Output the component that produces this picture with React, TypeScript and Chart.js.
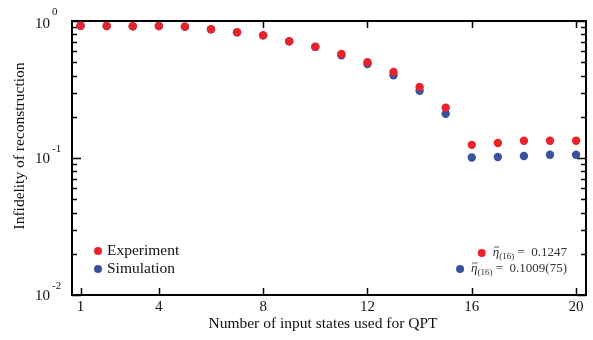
import React, { useEffect, useRef } from "react";
import { Chart, registerables } from "chart.js";

Chart.register(...registerables);

const inputStates = [1, 2, 3, 4, 5, 6, 7, 8, 9, 10, 11, 12, 13, 14, 15, 16, 17, 18, 19, 20];
const experiment = [0.924, 0.92, 0.915, 0.92, 0.91, 0.87, 0.827, 0.786, 0.711, 0.649, 0.574, 0.4995, 0.4243, 0.33, 0.233, 0.1247, 0.1287, 0.1337, 0.1337, 0.1337];
const simulation = [0.923, 0.919, 0.914, 0.919, 0.909, 0.869, 0.826, 0.785, 0.71, 0.647, 0.562, 0.485, 0.4015, 0.31, 0.2106, 0.1009, 0.1017, 0.1034, 0.1057, 0.1057];
const xTickValues = [1, 4, 8, 12, 16, 20];
const yTickExponents = [0, -1, -2];
const seriesLabels = ["Experiment", "Simulation"];
const annotationValues = ["0.1247", "0.1009(75)"];
const xTitle = "Number of input states used for QPT";
const yTitle = "Infidelity of reconstruction";

const RED = "#e8232b";
const BLUE = "#3a51a0";
const SERIF = "'Liberation Serif', 'Times New Roman', serif";

const framePlugin = {
  id: "framePlugin",
  beforeDatasetsDraw(chart: any) {
    const { ctx, chartArea, scales } = chart;
    const { left, right, top, bottom } = chartArea;
    const xs = scales.x;
    const ys = scales.y;
    ctx.save();
    ctx.strokeStyle = "#000";
    ctx.lineWidth = 2;
    ctx.strokeRect(left, top, right - left, bottom - top);

    ctx.lineWidth = 1.5;
    ctx.beginPath();
    for (const v of xTickValues) {
      const px = Math.round(xs.getPixelForValue(v)) + 0.5;
      ctx.moveTo(px, bottom);
      ctx.lineTo(px, bottom - 7);
      ctx.moveTo(px, top);
      ctx.lineTo(px, top + 7);
    }
    for (const e of yTickExponents) {
      const py = Math.round(ys.getPixelForValue(Math.pow(10, e))) + 0.5;
      ctx.moveTo(left, py);
      ctx.lineTo(left + 9, py);
      ctx.moveTo(right, py);
      ctx.lineTo(right - 9, py);
      if (e > -2) {
        for (let k = 2; k <= 9; k++) {
          const my = Math.round(ys.getPixelForValue(k * Math.pow(10, e - 1))) + 0.5;
          ctx.moveTo(left, my);
          ctx.lineTo(left + 5, my);
          ctx.moveTo(right, my);
          ctx.lineTo(right - 5, my);
        }
      }
    }
    ctx.stroke();

    // x tick labels
    ctx.fillStyle = "#111";
    ctx.font = `15px ${SERIF}`;
    ctx.textAlign = "center";
    ctx.textBaseline = "middle";
    for (const v of xTickValues) {
      ctx.fillText(String(v), xs.getPixelForValue(v), bottom + 12);
    }

    // y tick labels
    for (const e of yTickExponents) {
      const py = ys.getPixelForValue(Math.pow(10, e));
      const cy = Math.max(py + 1, top + 3);
      ctx.font = `15px ${SERIF}`;
      ctx.textAlign = "right";
      ctx.textBaseline = "middle";
      ctx.fillText("10", left - 22, cy);
      ctx.font = `11px ${SERIF}`;
      ctx.textAlign = "left";
      ctx.fillText(String(e), left - 20, py - 8.5);
    }

    // axis titles
    ctx.font = `15.5px ${SERIF}`;
    ctx.textAlign = "center";
    ctx.textBaseline = "middle";
    ctx.fillText(xTitle, (left + right) / 2 - 6, bottom + 29);
    ctx.save();
    ctx.translate(20, (top + bottom) / 2 - 12);
    ctx.rotate(-Math.PI / 2);
    ctx.fillText(yTitle, 0, 0);
    ctx.restore();

    // legend
    const colors = [RED, BLUE];
    seriesLabels.forEach((lab, i) => {
      const ly = bottom - 44 + i * 18;
      ctx.fillStyle = colors[i];
      ctx.beginPath();
      ctx.arc(left + 26, ly, 4, 0, Math.PI * 2);
      ctx.fill();
      ctx.fillStyle = "#111";
      ctx.font = `15.5px ${SERIF}`;
      ctx.textAlign = "left";
      ctx.textBaseline = "middle";
      ctx.fillText(lab, left + 35, ly);
    });

    // annotations
    annotationValues.forEach((val, i) => {
      const ay = bottom - 42 + i * 16;
      const endX = right - 19;
      ctx.font = `italic 13px ${SERIF}`;
      const wEta = ctx.measureText("η").width;
      ctx.font = `9px ${SERIF}`;
      const wSub = ctx.measureText("(16)").width;
      ctx.font = `13px ${SERIF}`;
      const rest = " =  " + val;
      const wRest = ctx.measureText(rest).width;
      const startX = endX - (wEta + wSub + wRest);
      ctx.fillStyle = colors[i];
      ctx.beginPath();
      ctx.arc(startX - 11, ay, 4, 0, Math.PI * 2);
      ctx.fill();
      ctx.fillStyle = "#333";
      ctx.textAlign = "left";
      ctx.textBaseline = "middle";
      ctx.font = `italic 13px ${SERIF}`;
      ctx.fillText("η", startX, ay);
      ctx.strokeStyle = "#333";
      ctx.lineWidth = 0.8;
      ctx.beginPath();
      ctx.moveTo(startX + 1, ay - 6);
      ctx.lineTo(startX + wEta, ay - 6);
      ctx.stroke();
      ctx.font = `9px ${SERIF}`;
      ctx.fillText("(16)", startX + wEta, ay + 4);
      ctx.font = `13px ${SERIF}`;
      ctx.fillText(rest, startX + wEta + wSub, ay);
    });

    ctx.restore();
  },
};

export default function App() {
  const canvasRef = useRef<HTMLCanvasElement | null>(null);

  useEffect(() => {
    if (!canvasRef.current) return;
    const chart = new Chart(canvasRef.current, {
      type: "scatter",
      data: {
        datasets: [
          {
            label: seriesLabels[0],
            data: inputStates.map((x, i) => ({ x, y: experiment[i] })),
            backgroundColor: RED,
            borderColor: RED,
            borderWidth: 0,
            pointRadius: 4.2,
          },
          {
            label: seriesLabels[1],
            data: inputStates.map((x, i) => ({ x, y: simulation[i] })),
            backgroundColor: BLUE,
            borderColor: BLUE,
            borderWidth: 0,
            pointRadius: 4.2,
          },
        ],
      },
      options: {
        animation: false,
        responsive: true,
        maintainAspectRatio: false,
        devicePixelRatio: 1,
        layout: { padding: { left: 72, right: 7, top: 21, bottom: 45 } },
        plugins: { legend: { display: false }, tooltip: { enabled: false } },
        scales: {
          x: { type: "linear", min: 0.67, max: 20.38, display: false },
          y: { type: "logarithmic", min: 0.01, max: 1, display: false },
        },
      },
      plugins: [framePlugin],
    });
    return () => chart.destroy();
  }, []);

  return (
    <div style={{ position: "fixed", left: 0, top: 0, width: 593, height: 340, background: "#fff" }}>
      <canvas ref={canvasRef} />
    </div>
  );
}
